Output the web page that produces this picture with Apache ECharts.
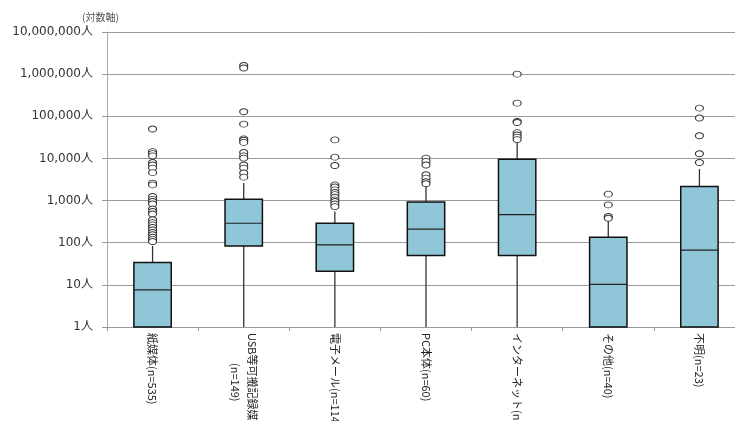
<!DOCTYPE html>
<html><head><meta charset="utf-8">
<script src="https://cdn.jsdelivr.net/npm/echarts@6/dist/echarts.min.js"></script>
<style>html,body{margin:0;padding:0;background:#fff}#c{width:735px;height:421px}</style>
</head><body><div id="c"></div>
<script>
var categories = ['紙媒体(n=535)', 'USB等可搬記録媒体\n(n=149)', '電子メール(n=114)', 'PC本体(n=60)', 'インターネット(n=64)', 'その他(n=40)', '不明(n=23)'];
// [whiskerLow, Q1, median, Q3, whiskerHigh]
var boxValues = [
  [1, 1, 7.6, 34, 84],
  [1, 83, 290, 1080, 2600],
  [1, 21, 89, 290, 550],
  [1, 50, 210, 920, 2150],
  [1, 50, 465, 9600, 25000],
  [1, 1, 10.3, 135, 360],
  [1, 1, 67, 2150, 5600]
];
var outliers0 = [50000, 14500, 13000, 11500, 8000, 7000, 5900, 4600, 2600, 2350, 1250, 1070, 950, 830, 630, 550, 480, 350, 300, 265, 230, 200, 175, 155, 135, 120, 107];
var outliers1 = [1600000, 1400000, 128000, 65000, 29000, 27000, 24000, 13800, 11500, 10200, 7000, 5900, 4500, 3600];
var outliers2 = [27500, 10700, 6800, 2350, 2100, 1800, 1550, 1380, 1200, 1040, 950, 830, 720];
var outliers3 = [10200, 8500, 7000, 4100, 3400, 2800, 2500];
var outliers4 = [1000000, 205000, 75000, 71000, 41000, 36000, 32000, 28000];
var outliers5 = [1420, 790, 420, 380];
var outliers6 = [156000, 91000, 34500, 12900, 8000];
var yTicks = [1, 10, 100, 1000, 10000, 100000, 1000000, 10000000];
var axisNote = '(対数軸)';

var outlierLists = [outliers0, outliers1, outliers2, outliers3, outliers4, outliers5, outliers6];
var outlierData = [];
outlierLists.forEach(function (list, i) { list.forEach(function (v) { outlierData.push([i, v]); }); });
var boxData = boxValues.map(function (b, i) { return [i].concat(b); });

var chart = echarts.init(document.getElementById('c'), null, {renderer: 'canvas'});
chart.setOption({
  animation: false,
  backgroundColor: '#fff',
  graphic: [{
    type: 'text', left: 82, top: 12,
    style: {text: axisNote, fontSize: 10, fill: '#555', fontFamily: 'Noto Sans CJK JP'}
  }],
  grid: {left: 107, top: 32, width: 638, height: 295, outerBoundsMode: 'none', containLabel: false},
  xAxis: {
    type: 'category', data: categories, boundaryGap: true,
    axisLine: {lineStyle: {color: '#999', width: 1}},
    axisTick: {show: true, length: 4, lineStyle: {color: '#999'}},
    axisLabel: {
      rotate: -90, fontSize: 11, color: '#222', margin: 6, fontFamily: 'Noto Sans CJK JP', lineHeight: 17,
      formatter: function (v) {
        return v.split('\n').map(function (s) { return '{c|' + s + '}'; }).join('\n');
      },
      rich: {c: {align: 'center', fontSize: 11, color: '#222', fontFamily: 'Noto Sans CJK JP', lineHeight: 17}}
    },
    splitLine: {show: false}
  },
  yAxis: {
    type: 'log', logBase: 10, min: 1, max: 10000000,
    axisLine: {show: true, lineStyle: {color: '#aaa'}},
    axisTick: {show: true, length: 5, lineStyle: {color: '#999'}},
    axisLabel: {
      fontSize: 12, color: '#333', margin: 14, fontFamily: 'DejaVu Sans, Noto Sans CJK JP',
      formatter: function (v) {
        var t = yTicks.filter(function (x) { return Math.abs(x - v) / x < 1e-6; });
        return (t.length ? t[0] : v).toLocaleString('en-US') + '人';
      }
    },
    splitLine: {show: true, lineStyle: {color: '#999', width: 1}},
    minorTick: {show: false}
  },
  series: [{
    type: 'custom',
    data: boxData,
    encode: {x: 0, y: [1, 2, 3, 4, 5]},
    renderItem: function (params, api) {
      var idx = api.value(0);
      var lo = api.coord([idx, api.value(1)]);
      var q1 = api.coord([idx, api.value(2)]);
      var med = api.coord([idx, api.value(3)]);
      var q3 = api.coord([idx, api.value(4)]);
      var hi = api.coord([idx, api.value(5)]);
      var w = api.size([1, 0])[0] * 0.41;
      var x = q1[0];
      return {
        type: 'group',
        children: [
          {type: 'line', shape: {x1: x, y1: q3[1], x2: x, y2: hi[1]}, style: {stroke: '#333', lineWidth: 1.3}},
          {type: 'line', shape: {x1: x, y1: q1[1], x2: x, y2: lo[1]}, style: {stroke: '#333', lineWidth: 1.3}},
          {type: 'rect', shape: {x: x - w / 2, y: q3[1], width: w, height: q1[1] - q3[1]},
            style: {fill: '#8fc6d8', stroke: '#111', lineWidth: 1.5}},
          {type: 'line', shape: {x1: x - w / 2, y1: med[1], x2: x + w / 2, y2: med[1]}, style: {stroke: '#222', lineWidth: 1.2}}
        ]
      };
    },
    z: 3
  }, {
    type: 'scatter',
    data: outlierData,
    symbol: 'circle',
    symbolSize: [8, 6],
    itemStyle: {color: '#fff', borderColor: '#333', borderWidth: 1, opacity: 1},
    z: 4
  }]
});
</script>
</body></html>
